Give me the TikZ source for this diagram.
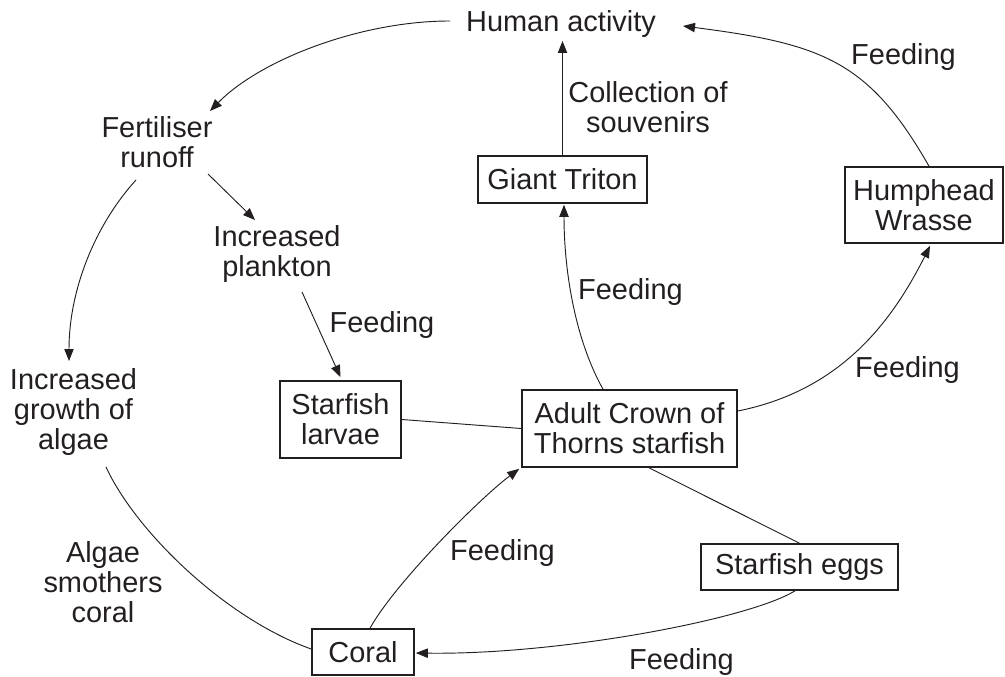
\documentclass[tikz,border=0pt]{standalone}
\usepackage{fontspec}
\setmainfont{Liberation Sans}
\usetikzlibrary{calc,arrows.meta}
\definecolor{ink}{HTML}{231F20}
\tikzset{
  every node/.style={font=\fontsize{21.7pt}{22.5pt}\selectfont, text=ink},
  txt/.style={inner sep=0pt, align=center},
  box/.style={draw=ink, line width=1.2pt, inner sep=0pt, align=center},
  conn/.style={draw=ink, line width=0.7pt},
  arr/.style={conn, -{Triangle[length=9pt,width=7pt]}},
}
\begin{document}
\begin{tikzpicture}[x=0.75pt,y=-0.75pt]
\useasboundingbox (0,0) rectangle (1005,677);
% text nodes
\node[txt] (hum) at (561,24.5) {Human activity};
\node[txt] (fert) at (157,142) {Fertiliser\\runoff};
\node[txt] (plank) at (277,254) {Increased\\plankton};
\node[txt] (algae) at (73.5,412.5) {Increased\\growth of\\algae};
% boxes
\node[box, minimum width=90.75pt, minimum height=57.75pt] (larv) at (340.5,419.5) {Starfish\\larvae};
\node[box, minimum width=161.25pt, minimum height=57.75pt] (adult) at (629.5,428.5) {Adult Crown of\\Thorns starfish};
\node[box, minimum width=147.75pt, minimum height=34.5pt] (eggs) at (799.5,567) {Starfish eggs};
\node[box, minimum width=76.5pt, minimum height=34.5pt] (coral) at (363,652) {Coral};
\node[box, minimum width=126.75pt, minimum height=35.25pt] (triton) at (562.5,179.5) {Giant Triton};
\node[box, minimum width=118.5pt, minimum height=57pt] (wrasse) at (924,205) {Humphead\\Wrasse};
% labels
\node[txt] (l1) at (903.5,57.5) {Feeding};
\node[txt] (l2) at (648,107.5) {Collection of\\souvenirs};
\node[txt] (l3) at (630.5,292.5) {Feeding};
\node[txt] (l4) at (907.5,370.5) {Feeding};
\node[txt] (l5) at (382,325) {Feeding};
\node[txt] (l6) at (103,582.5) {Algae\\smothers\\coral};
\node[txt] (l7) at (502.5,553) {Feeding};
\node[txt] (l8) at (681.5,662) {Feeding};
% connectors
\draw[arr] ($(hum)+(-111,-3.5)$) .. controls +(-90,0) and +(50,-51) .. ($(fert)+(53,-31)$);
\draw[arr] ($(fert)+(51,32)$) -- ($(plank)+(-22,-34)$);
\draw[arr] ($(fert)+(-21,38)$) .. controls +(-41,45) and +(0,-71) .. ($(algae)+(-4.5,-51.5)$);
\draw[arr] ($(plank)+(25,38)$) -- ($(larv.north)+(0,-3)$);
\draw[conn] (larv.east) -- (adult.west);
\draw[arr] ($(adult.north)+(-26.5,0)$) .. controls +(-28,-50) and +(0,66) .. ($(triton.south)+(1.5,1)$);
\draw[arr] (triton.north) -- ($(hum)+(1.5,16.5)$);
\draw[arr] ($(adult.east)+(0,-17.5)$) .. controls +(100,-20) and +(-40,80) .. ($(wrasse.south)+(6,2)$);
\draw[arr] ($(wrasse.north)+(5,0)$) .. controls +(-60,-105) and +(140,18) .. ($(hum)+(122,1.5)$);
\draw[arr] ($(eggs.south)+(-4.5,0)$) .. controls +(-45,28) and +(145,2) .. ($(coral.east)+(1,1)$);
\draw[conn] ($(adult.south)+(19.5,0)$) -- (eggs.north);
\draw[arr] ($(coral.north)+(7,0)$) .. controls +(25,-45) and +(-40,30) .. ($(adult.south west)+(-2,1)$);
\draw[conn] ($(algae)+(32.5,54.5)$) .. controls +(30,65) and +(-85,-30) .. ($(coral.west)+(0,-3)$);
\end{tikzpicture}
\end{document}
